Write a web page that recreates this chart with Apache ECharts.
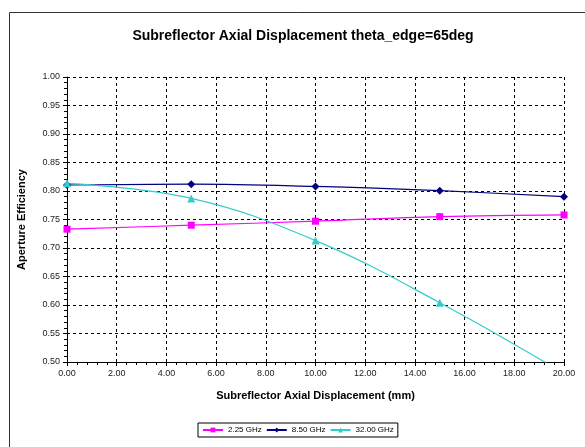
<!DOCTYPE html>
<html>
<head>
<meta charset="utf-8">
<script src="https://cdn.jsdelivr.net/npm/echarts@6/dist/echarts.min.js"></script>
<style>
html,body{margin:0;padding:0;background:#fff;}
#chart{width:585px;height:447px;}
</style>
</head>
<body>
<div id="chart"></div>
<script>
var displacement = [0, 5, 10, 15, 20];
var eff225 = [0.733, 0.740, 0.747, 0.755, 0.758];
var eff850 = [0.8105, 0.812, 0.808, 0.8005, 0.790];
var eff3200 = [0.8135, 0.787, 0.713, 0.604, 0.480];
var seriesNames = ['2.25 GHz', '8.50 GHz', '32.00 GHz'];

function pairs(xs, ys) { return xs.map(function (x, i) { return [x, ys[i]]; }); }

var font = 'Liberation Sans, Arial, sans-serif';
var chart = echarts.init(document.getElementById('chart'), null, {renderer: 'canvas'});
chart.setOption({
  animation: false,
  backgroundColor: '#fff',
  graphic: [{
    type: 'rect', left: 7, top: 10, z: -1,
    shape: {x: 0, y: 0, width: 600, height: 460},
    style: {fill: 'none', stroke: '#333', lineWidth: 1}
  }],
  title: {
    text: 'Subreflector Axial Displacement theta_edge=65deg',
    left: 298, top: 24, textAlign: 'center',
    textStyle: {fontFamily: font, fontSize: 14, fontWeight: 'bold', color: '#000'}
  },
  grid: {left: 67, right: 21, top: 77, bottom: 85, containLabel: false},
  legend: {
    data: seriesNames,
    left: 198, top: 423,
    itemWidth: 20, itemHeight: 6, itemGap: 4,
    padding: [3, 4, 3, 4],
    borderColor: '#000', borderWidth: 1,
    textStyle: {fontFamily: font, fontSize: 8, color: '#000'}
  },
  xAxis: {
    type: 'value', min: 0, max: 20, interval: 2,
    name: 'Subreflector Axial Displacement (mm)',
    nameLocation: 'middle', nameGap: 28,
    nameTextStyle: {fontFamily: font, fontSize: 11, fontWeight: 'bold', color: '#000'},
    axisLine: {lineStyle: {color: '#000', width: 1}},
    axisTick: {show: true, length: 4, lineStyle: {color: '#000'}},
    minorTick: {show: true, splitNumber: 5, length: 3, lineStyle: {color: '#000'}},
    axisLabel: {fontFamily: font, fontSize: 9, color: '#222', margin: 7,
      formatter: function (v) { return v.toFixed(2); }},
    splitLine: {show: true, lineStyle: {color: '#000', type: [3, 3], width: 1}}
  },
  yAxis: {
    type: 'value', min: 0.5, max: 1.0, interval: 0.05,
    name: 'Aperture Efficiency',
    nameLocation: 'middle', nameGap: 40,
    nameTextStyle: {fontFamily: font, fontSize: 11, fontWeight: 'bold', color: '#000'},
    axisLine: {show: true, lineStyle: {color: '#000', width: 1}},
    axisTick: {show: true, length: 4, lineStyle: {color: '#000'}},
    minorTick: {show: true, splitNumber: 5, length: 3, lineStyle: {color: '#000'}},
    axisLabel: {fontFamily: font, fontSize: 9, color: '#222', margin: 7,
      formatter: function (v) { return v.toFixed(2); }},
    splitLine: {show: true, lineStyle: {color: '#000', type: [3, 3], width: 1}}
  },
  series: [{
    name: seriesNames[0], type: 'line', data: pairs(displacement, eff225),
    smooth: 0.4, symbol: 'rect', symbolSize: 7,
    lineStyle: {color: '#FF00FF', width: 1.2}, itemStyle: {color: '#FF00FF'}
  }, {
    name: seriesNames[1], type: 'line', data: pairs(displacement, eff850),
    smooth: 0.4, symbol: 'diamond', symbolSize: 8,
    lineStyle: {color: '#000080', width: 1.2}, itemStyle: {color: '#000080'}
  }, {
    name: seriesNames[2], type: 'line', data: pairs(displacement, eff3200),
    smooth: 0.4, symbol: 'triangle', symbolSize: 8, clip: true,
    lineStyle: {color: '#33CCCC', width: 1.2}, itemStyle: {color: '#33CCCC'}
  }]
});
</script>
</body>
</html>
